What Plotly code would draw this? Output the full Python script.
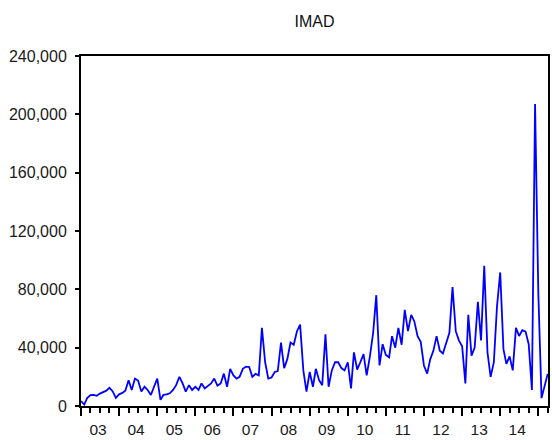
import pandas as pd
import plotly.graph_objects as go

# Monthly IMAD series, 2003M01 .. 2015M04
imad_2003 = [3400, 1000, 5500, 7500, 7600, 7000, 8500, 9500, 10500, 12500, 10000, 5500]
imad_2004 = [8000, 9000, 10500, 17700, 11000, 18800, 17500, 10000, 13200, 11000, 7600, 13200]
imad_2005 = [18800, 4200, 7600, 8000, 8700, 11000, 14300, 20000, 15500, 9900, 14300, 11000]
imad_2006 = [13200, 11000, 15500, 12100, 14000, 15500, 18800, 14000, 15500, 22200, 13200, 25500]
imad_2007 = [21000, 18800, 20000, 25500, 27000, 26700, 20000, 22000, 21000, 53600, 30000, 18800]
imad_2008 = [19500, 23300, 24000, 43500, 26000, 32300, 43500, 42000, 51300, 55800, 24400, 9900]
imad_2009 = [23300, 13200, 25500, 17700, 14300, 49100, 13200, 24400, 30000, 30000, 26000, 24400]
imad_2010 = [30000, 12100, 36800, 25000, 30000, 35600, 21000, 34000, 50200, 76000, 27800, 42400]
imad_2011 = [35000, 33400, 47900, 40000, 53600, 42000, 65900, 51300, 62500, 58000, 47900, 44000]
imad_2012 = [27800, 22200, 32000, 38000, 47900, 37900, 36000, 43000, 50200, 81500, 51300, 45000]
imad_2013 = [41000, 15500, 62500, 34500, 40000, 71500, 45000, 96100, 36800, 20000, 30000, 68100]
imad_2014 = [91600, 39000, 28900, 34000, 24400, 53600, 48000, 52000, 51000, 42400, 11000, 207000]
imad_2015 = [78000, 5400, 13000, 22000]

imad = (imad_2003 + imad_2004 + imad_2005 + imad_2006 + imad_2007 + imad_2008
        + imad_2009 + imad_2010 + imad_2011 + imad_2012 + imad_2013 + imad_2014
        + imad_2015)
months = pd.date_range("2003-01-01", periods=len(imad), freq="MS")

year_ticks = [f"{y}-01-01" for y in range(2003, 2016)]
year_labels = ["03", "04", "05", "06", "07", "08", "09", "10", "11", "12", "13", "14", ""]
y_ticks = [0, 40000, 80000, 120000, 160000, 200000, 240000]

FONT = "Liberation Sans, Arial, sans-serif"

fig = go.Figure(
    go.Scatter(
        x=months,
        y=imad,
        mode="lines",
        line=dict(color="#0000FF", width=1.8),
        hoverinfo="x+y",
    )
)

fig.update_layout(
    width=552,
    height=440,
    margin=dict(l=81, r=2, t=56, b=27),
    paper_bgcolor="white",
    plot_bgcolor="white",
    showlegend=False,
    font=dict(family=FONT, size=16, color="#1a1a1a"),
    title=dict(
        text="IMAD",
        x=0.5,
        xref="paper",
        y=1 - 21 / 440,
        yref="container",
        yanchor="middle",
        xanchor="center",
        font=dict(family=FONT, size=16, color="#111111"),
    ),
)

fig.update_xaxes(
    type="date",
    range=["2003-01-01", "2015-04-04"],
    tickmode="array",
    tickvals=year_ticks,
    ticktext=year_labels,
    ticks="outside",
    ticklen=8,
    tickwidth=1.5,
    tickcolor="black",
    ticklabelshift=17,
    minor=dict(
        dtick="M3",
        tick0="2003-01-01",
        ticks="outside",
        ticklen=5,
        tickwidth=1.5,
        tickcolor="black",
        showgrid=False,
    ),
    showline=True,
    linecolor="black",
    linewidth=2,
    mirror=True,
    showgrid=False,
    zeroline=False,
    tickfont=dict(family=FONT, size=15.5, color="#1a1a1a"),
)

fig.update_yaxes(
    range=[0, 240000],
    tickmode="array",
    tickvals=y_ticks,
    tickformat=",d",
    ticks="outside",
    ticklen=4,
    tickwidth=1.5,
    tickcolor="black",
    ticklabelstandoff=5,
    showline=True,
    linecolor="black",
    linewidth=2,
    mirror=True,
    showgrid=False,
    zeroline=False,
    tickfont=dict(family=FONT, size=16, color="#1a1a1a"),
)

fig.write_html("out.html")
